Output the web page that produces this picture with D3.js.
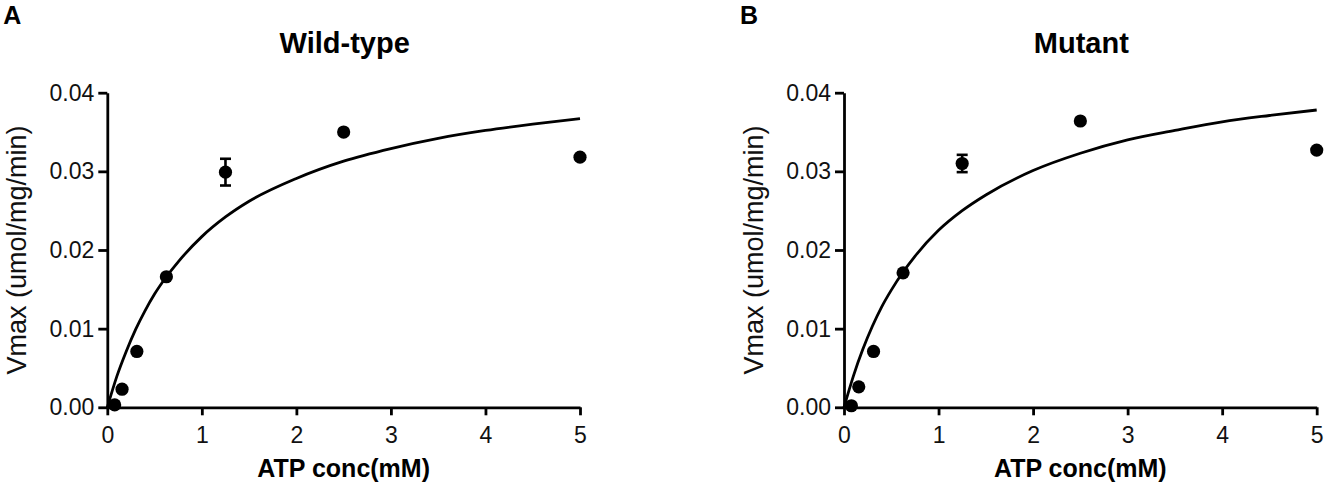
<!DOCTYPE html>
<html>
<head>
<meta charset="utf-8">
<script src="https://cdn.jsdelivr.net/npm/d3@7"></script>
<style>
  body { margin: 0; background: #fff; }
  svg { display: block; font-family: "Liberation Sans", Arial, Helvetica, sans-serif; }
</style>
</head>
<body>
<div id="chart"></div>
<script>
// ATP concentrations (mM) of the measured points
const atpConc = [0.078, 0.156, 0.3125, 0.625, 1.25, 2.5, 5];

// measured rates, umol/mg/min
const wildType = [0.0003, 0.0023, 0.0071, 0.0166, 0.0299, 0.0350, 0.0318];
const wildTypeErr = [0, 0, 0, 0, 0.0017, 0, 0];
const mutant = [0.0002, 0.0026, 0.0071, 0.0171, 0.0310, 0.0364, 0.0327];
const mutantErr = [0, 0, 0, 0, 0.0011, 0, 0];

// fitted curve
const fitConc = [0, 0.1, 0.2, 0.3, 0.4, 0.5, 0.625, 0.75, 1, 1.25, 1.5, 2, 2.5, 3, 3.5, 4, 4.5, 5];
const wildTypeFit = [0, 0.0039, 0.0071, 0.0099, 0.0123, 0.0144, 0.0166, 0.0185, 0.0217, 0.0242, 0.0262, 0.0291, 0.0313, 0.0329, 0.0342, 0.0352, 0.0360, 0.0367];
const mutantFit = [0, 0.0040, 0.0074, 0.0103, 0.0128, 0.0149, 0.0172, 0.0192, 0.0225, 0.0250, 0.0270, 0.0301, 0.0323, 0.0340, 0.0352, 0.0363, 0.0371, 0.0378];

const xTicks = [0, 1, 2, 3, 4, 5];
const yTicks = [0, 0.01, 0.02, 0.03, 0.04];

const panels = [
    { letter: "A", title: "Wild-type", y: wildType, err: wildTypeErr, fit: wildTypeFit, left: 107.3, right: 580 },
    { letter: "B", title: "Mutant", y: mutant, err: mutantErr, fit: mutantFit, left: 844, right: 1316.7 }
];

const width = 1326;
const height = 486;
const plotTop = 92.7;
const plotBottom = 407.3;

const svg = d3.select("#chart").append("svg")
    .attr("width", width)
    .attr("height", height);

panels.forEach(p => {
    const x = d3.scaleLinear().domain([0, 5]).range([p.left, p.right]);
    const y = d3.scaleLinear().domain([0, 0.04]).range([plotBottom, plotTop]);

    const g = svg.append("g");

    // panel letter
    g.append("text")
        .attr("x", p.left - 104)
        .attr("y", 24)
        .attr("font-size", 25)
        .attr("font-weight", "bold")
        .text(p.letter);

    g.append("text")
        .attr("x", (p.left + p.right) / 2 + 1)
        .attr("y", 53)
        .attr("text-anchor", "middle")
        .attr("font-size", 29)
        .attr("font-weight", "bold")
        .text(p.title);

    const xAxis = g.append("g")
        .attr("transform", `translate(0,${plotBottom})`)
        .call(d3.axisBottom(x).tickValues(xTicks).tickFormat(d3.format("d"))
            .tickSize(8).tickSizeOuter(0).tickPadding(11));

    const yAxis = g.append("g")
        .attr("transform", `translate(${p.left},0)`)
        .call(d3.axisLeft(y).tickValues(yTicks).tickFormat(d3.format(".2f"))
            .tickSize(9).tickSizeOuter(0).tickPadding(4));

    [xAxis, yAxis].forEach(a => {
        a.select(".domain").attr("stroke", "#000").attr("stroke-width", 2.8);
        a.selectAll(".tick line").attr("stroke", "#000").attr("stroke-width", 2.8);
        a.selectAll(".tick text")
            .attr("font-size", 23)
            .attr("font-family", "Liberation Sans, Arial, sans-serif")
            .attr("fill", "#111");
    });

    g.append("text")
        .attr("x", (p.left + p.right) / 2)
        .attr("y", 477)
        .attr("text-anchor", "middle")
        .attr("font-size", 25)
        .attr("font-weight", "bold")
        .text("ATP conc(mM)");

    g.append("text")
        .attr("transform", `translate(${p.left - 81},${(plotTop + plotBottom) / 2}) rotate(-90)`)
        .attr("text-anchor", "middle")
        .attr("font-size", 27)
        .attr("fill", "#111")
        .text("Vmax (umol/mg/min)");

    // fitted curve
    const line = d3.line()
        .x((d, i) => x(fitConc[i]))
        .y(d => y(d))
        .curve(d3.curveMonotoneX);

    g.append("path")
        .datum(p.fit)
        .attr("fill", "none")
        .attr("stroke", "#000")
        .attr("stroke-width", 2.8)
        .attr("d", line);

    const pts = atpConc.map((c, i) => ({ c: c, v: p.y[i], e: p.err[i] }));

    // error bars
    const eb = g.append("g")
        .attr("stroke", "#000")
        .attr("stroke-width", 2.6)
        .selectAll("g")
        .data(pts.filter(d => d.e > 0))
        .join("g");

    eb.append("line")
        .attr("x1", d => x(d.c)).attr("x2", d => x(d.c))
        .attr("y1", d => y(d.v - d.e)).attr("y2", d => y(d.v + d.e));
    eb.append("line")
        .attr("x1", d => x(d.c) - 5.5).attr("x2", d => x(d.c) + 5.5)
        .attr("y1", d => y(d.v + d.e)).attr("y2", d => y(d.v + d.e));
    eb.append("line")
        .attr("x1", d => x(d.c) - 5.5).attr("x2", d => x(d.c) + 5.5)
        .attr("y1", d => y(d.v - d.e)).attr("y2", d => y(d.v - d.e));

    g.append("g")
        .selectAll("circle")
        .data(pts)
        .join("circle")
        .attr("cx", d => x(d.c))
        .attr("cy", d => y(d.v))
        .attr("r", 6.6)
        .attr("fill", "#000");
});
</script>
</body>
</html>
